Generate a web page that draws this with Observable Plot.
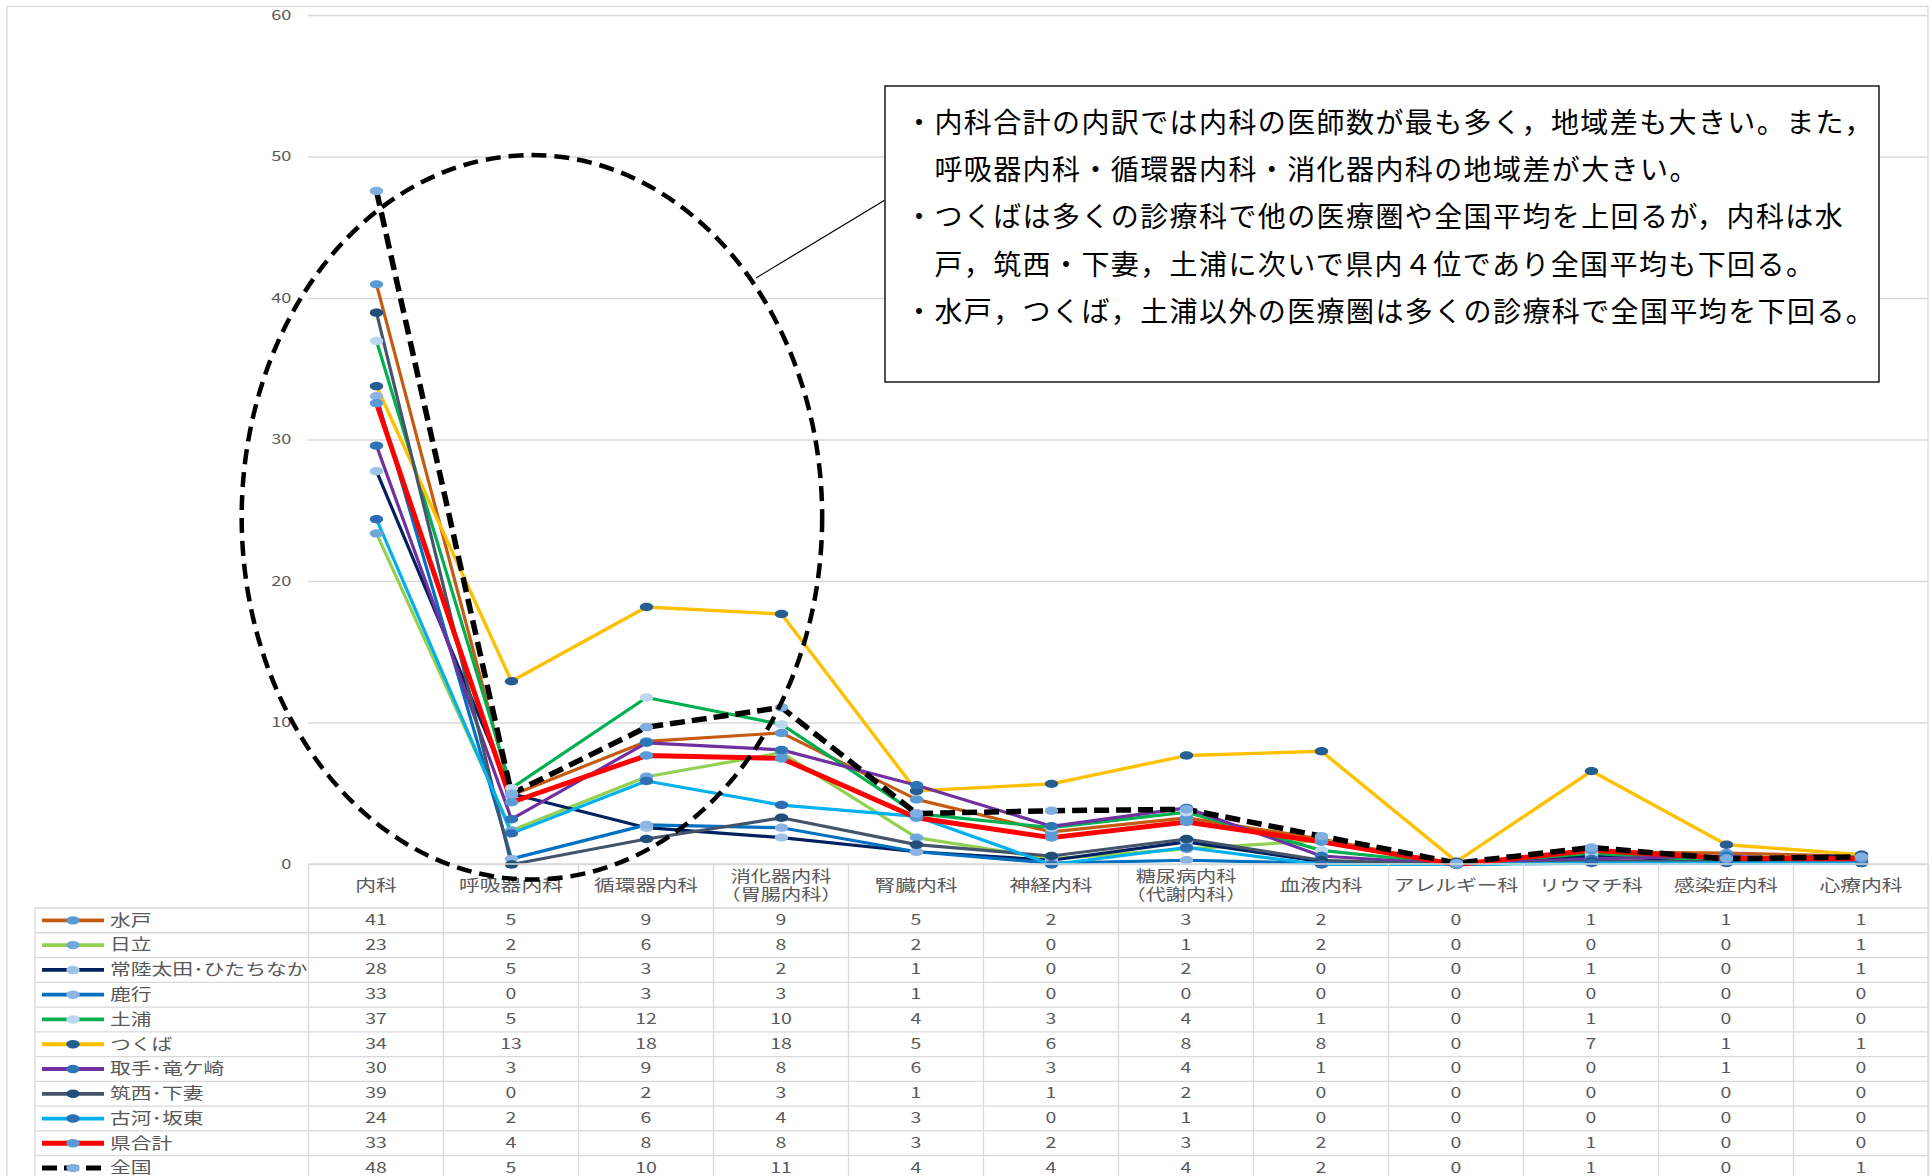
<!DOCTYPE html>
<html><head><meta charset="utf-8">
<script src="https://cdn.jsdelivr.net/npm/d3@7"></script>
<script src="https://cdn.jsdelivr.net/npm/@observablehq/plot@0.6"></script>
<style>
body{margin:0;background:#fff;}
#chart{position:relative;width:1932px;height:1176px;overflow:hidden;background:#fff;}
</style></head><body><div id="chart"></div>
<script>
// ---------- data ----------
const categories = ["内科","呼吸器内科","循環器内科","消化器内科（胃腸内科）","腎臓内科","神経内科","糖尿病内科（代謝内科）","血液内科","アレルギー科","リウマチ科","感染症内科","心療内科"];
const headerLabels = [["内科"],["呼吸器内科"],["循環器内科"],["消化器内科","（胃腸内科）"],["腎臓内科"],["神経内科"],["糖尿病内科","（代謝内科）"],["血液内科"],["アレルギー科"],["リウマチ科"],["感染症内科"],["心療内科"]];
const seriesNames = ["水戸","日立","常陸太田･ひたちなか","鹿行","土浦","つくば","取手･竜ケ崎","筑西･下妻","古河･坂東","県合計","全国"];
const mito      = [41.0, 4.9, 8.7, 9.3, 4.6, 2.3, 3.3, 1.8, 0, 0.9, 0.8, 0.6];
const hitachi   = [23.4, 2.4, 6.2, 7.9, 1.9, 0.4, 1.1, 1.7, 0, 0.3, 0.2, 0.55];
const hitachiOta= [27.8, 5.0, 2.6, 1.9, 0.9, 0.3, 1.6, 0.2, 0, 0.6, 0.2, 0.7];
const rokko     = [33.1, 0.4, 2.8, 2.6, 0.9, 0.1, 0.3, 0.1, 0, 0.2, 0.1, 0.2];
const tsuchiura = [37.0, 5.4, 11.8, 9.9, 3.6, 2.6, 3.7, 1.0, 0, 0.8, 0.2, 0.3];
const tsukuba   = [33.8, 12.95, 18.2, 17.7, 5.2, 5.7, 7.7, 8.0, 0.2, 6.6, 1.4, 0.7];
const toride    = [29.6, 3.2, 8.6, 8.1, 5.6, 2.7, 4.0, 0.6, 0, 0.4, 0.6, 0.2];
const chikusei  = [39.0, 0.0, 1.8, 3.3, 1.4, 0.6, 1.8, 0.3, 0, 0.2, 0.2, 0.1];
const koga      = [24.4, 2.2, 5.9, 4.2, 3.4, 0.0, 1.2, 0.0, 0, 0.1, 0.1, 0.1];
const kenTotal  = [32.6, 4.4, 7.7, 7.5, 3.3, 1.9, 3.0, 1.6, 0, 1.0, 0.45, 0.4];
const zenkoku   = [47.6, 5.0, 9.7, 11.1, 3.6, 3.8, 3.9, 2.0, 0.1, 1.2, 0.4, 0.55];
const seriesValues = [mito, hitachi, hitachiOta, rokko, tsuchiura, tsukuba, toride, chikusei, koga, kenTotal, zenkoku];
const yTicks = [0, 10, 20, 30, 40, 50, 60];
const notes = [
  "・内科合計の内訳では内科の医師数が最も多く，地域差も大きい。また，",
  "　呼吸器内科・循環器内科・消化器内科の地域差が大きい。",
  "・つくばは多くの診療科で他の医療圏や全国平均を上回るが，内科は水",
  "　戸，筑西・下妻，土浦に次いで県内４位であり全国平均も下回る。",
  "・水戸，つくば，土浦以外の医療圏は多くの診療科で全国平均を下回る。"
];

// ---------- styles ----------
const lineColors   = ["#C55A11","#92D050","#002060","#0070C0","#00B050","#FFC000","#7030A0","#44546A","#00B0F0","#FF0000","#000000"];
const markerColors = ["#5B9BD5","#6FA8DC","#9DC3E6","#8DB4E2","#BDD7EE","#255E91","#2E75B6","#1F4E79","#2E6DB4","#5B9BD5","#7FAEE0"];
const lineWidths   = [3.2,3.2,3.2,3.2,3.2,3.4,3.2,3.2,3.2,5,5.5];
const dashes       = [null,null,null,null,null,null,null,null,null,null,"15,7"];
const FONT = '"Noto Sans CJK JP","Noto Sans",sans-serif';
const GRAY = "#595959", GRID = "#d9d9d9";
const SX = 1.3; // horizontal stretch of the original chart text

const rows = seriesNames.flatMap((s, si) => seriesValues[si].map((v, i) => ({series: s, si, cat: categories[i], value: v})));

const ellipseSymbol = {
  draw(ctx, size) {
    const r = Math.sqrt(size / Math.PI), rx = r * 1.6, ry = r, k = 0.5523;
    ctx.moveTo(rx, 0);
    ctx.bezierCurveTo(rx, ry*k, rx*k, ry, 0, ry);
    ctx.bezierCurveTo(-rx*k, ry, -rx, ry*k, -rx, 0);
    ctx.bezierCurveTo(-rx, -ry*k, -rx*k, -ry, 0, -ry);
    ctx.bezierCurveTo(rx*k, -ry, rx, -ry*k, rx, 0);
    ctx.closePath();
  }
};

const lineMarks = seriesNames.map((s, si) => Plot.line(rows.filter(d => d.si === si), {
  x: "cat", y: "value", stroke: lineColors[si], strokeWidth: lineWidths[si],
  strokeDasharray: dashes[si] ?? undefined, strokeLinejoin: "round", strokeLinecap: dashes[si] ? "butt" : "round"
}));
const dotMarks = seriesNames.map((s, si) => Plot.dot(rows.filter(d => d.si === si), {
  x: "cat", y: "value", r: 4.2, symbol: ellipseSymbol, fill: markerColors[si], stroke: "none"
}));

const plot = Plot.plot({
  width: 1932, height: 1176,
  marginLeft: 308, marginRight: 4, marginTop: 15, marginBottom: 312,
  style: {fontFamily: FONT, background: "transparent", overflow: "visible"},
  x: {type: "point", domain: categories, padding: 0.5, axis: null},
  y: {domain: [0, 60], axis: null},
  marks: [
    Plot.gridY(yTicks, {stroke: GRID, strokeOpacity: 1, strokeWidth: 1.3}),
    Plot.axisY(yTicks, {tickSize: 0, tickPadding: 17, fontSize: 14, color: GRAY, label: null}),
    ...lineMarks,
    ...dotMarks
  ]
});
document.getElementById("chart").appendChild(plot);

// stretch axis tick labels horizontally like the original
d3.select(plot).selectAll('g[aria-label="y-axis tick label"] text').each(function() {
  const b = this.getBBox();
  const ax = b.x + b.width;
  const t = this.getAttribute("transform") || "";
  this.setAttribute("transform", `${t} translate(${ax},0) scale(${SX},1) translate(${-ax},0)`);
});

// ---------- table, frame & annotation ----------
const svg = d3.select(plot);
const xs = plot.scale("x"), ys = plot.scale("y");
const X = c => xs.apply(c);
const y0 = ys.apply(0);
const step = X(categories[1]) - X(categories[0]);
const colLeft = X(categories[0]) - step / 2;
const colRight = X(categories[categories.length - 1]) + step / 2;
const headerH = 44, rowH = 24.77, legendLeft = 35, textShift = -2;
const tableTop = y0 + headerH;

const under = svg.insert("g", ":first-child");
under.append("rect").attr("x", 7).attr("y", 6.5).attr("width", 1921).attr("height", 1300)
  .attr("fill", "#fff").attr("stroke", GRID).attr("stroke-width", 1.3);

const tbl = svg.append("g").attr("font-family", FONT).attr("fill", GRAY);
tbl.append("line").attr("x1", colLeft).attr("x2", colRight).attr("y1", y0).attr("y2", y0).attr("stroke", GRID).attr("stroke-width", 1.3);
for (let k = 0; k <= seriesNames.length; k++) {
  const y = tableTop + k * rowH;
  tbl.append("line").attr("x1", legendLeft).attr("x2", colRight).attr("y1", y).attr("y2", y).attr("stroke", GRID).attr("stroke-width", 1.3);
}
for (let k = 0; k <= categories.length; k++) {
  const x = colLeft + k * step;
  tbl.append("line").attr("x1", x).attr("x2", x).attr("y1", y0).attr("y2", 1200).attr("stroke", GRID).attr("stroke-width", 1.3);
}
tbl.append("line").attr("x1", legendLeft).attr("x2", legendLeft).attr("y1", tableTop).attr("y2", 1200).attr("stroke", GRID).attr("stroke-width", 1.3);

function stext(g, x, y, lines, size, anchor, lh) {
  const t = g.append("text").attr("transform", `translate(${x},${y}) scale(${SX},1)`)
    .attr("text-anchor", anchor).attr("font-size", size);
  if (lines.length === 1) {
    t.attr("dominant-baseline", "central").text(lines[0]);
  } else {
    lines.forEach((l, i) => t.append("tspan").attr("x", 0)
      .attr("y", (i - (lines.length - 1) / 2) * lh).attr("dominant-baseline", "central").text(l));
  }
  return t;
}
categories.forEach((c, i) => {
  const two = headerLabels[i].length > 1;
  stext(tbl, X(c), y0 + headerH / 2 + textShift, headerLabels[i], two ? 15.5 : 16, "middle", 18.5);
});
seriesNames.forEach((s, si) => {
  const cy = tableTop + si * rowH + rowH / 2;
  const lg = tbl.append("g");
  lg.append("line").attr("x1", 42).attr("x2", 104).attr("y1", cy).attr("y2", cy)
    .attr("stroke", lineColors[si]).attr("stroke-width", si >= 9 ? 5 : 3.8)
    .attr("stroke-dasharray", dashes[si] ? "15,7" : null);
  lg.append("ellipse").attr("cx", 73).attr("cy", cy).attr("rx", 6.7).attr("ry", 4.2).attr("fill", markerColors[si]);
  stext(tbl, 110, cy + textShift, [s], 16, "start");
  seriesValues[si].forEach((v, i) => stext(tbl, X(categories[i]), cy + textShift, [String(Math.round(v))], 15, "middle"));
});

// dashed highlight ellipse
const ann = svg.append("g");
const ecx = X(categories[1]) + 0.155 * step, ecy = ys.apply(24.5);
ann.append("ellipse").attr("cx", ecx).attr("cy", ecy).attr("rx", 2.15 * step).attr("ry", y0 - ys.apply(25.6))
  .attr("fill", "none").attr("stroke", "#000").attr("stroke-width", 4.5).attr("stroke-dasharray", "15,8");
ann.append("line").attr("x1", 885).attr("y1", 200).attr("x2", 756).attr("y2", 278).attr("stroke", "#000").attr("stroke-width", 1.2);
ann.append("rect").attr("x", 885).attr("y", 86).attr("width", 994).attr("height", 296)
  .attr("fill", "#fff").attr("stroke", "#1a1a1a").attr("stroke-width", 1.5);
notes.forEach((t, i) => {
  ann.append("text").attr("x", 905).attr("y", 121 + i * 47.2).attr("dominant-baseline", "central")
    .attr("text-anchor", "start")
    .attr("font-family", FONT).attr("font-size", 28).attr("letter-spacing", 1.4).attr("fill", "#000").text(t);
});
</script></body></html>
